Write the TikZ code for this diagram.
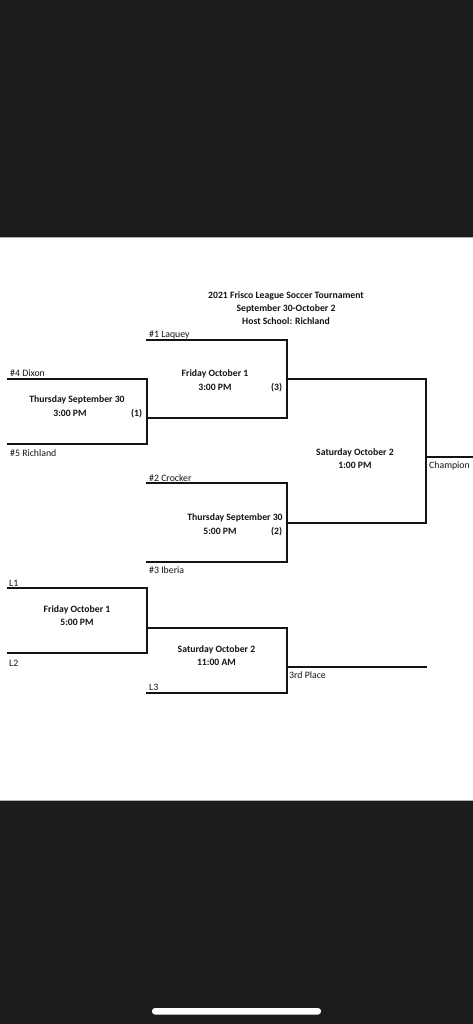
\documentclass[tikz,border=0pt]{standalone}
\usepackage{fontspec}
\setmainfont{Carlito}
\definecolor{band}{HTML}{1C1C1E}
\definecolor{ink}{HTML}{141414}
\begin{document}
\begin{tikzpicture}[x=1pt,y=-1pt,
  lbl/.style={font=\fontsize{9.8}{11}\selectfont, text=ink, inner sep=0pt, anchor=base west},
  game/.style={font=\fontsize{9.7}{11}\selectfont\bfseries, text=ink, inner sep=0pt, anchor=base},
  seed/.style={font=\fontsize{9.7}{11}\selectfont\bfseries, text=ink, inner sep=0pt, anchor=base west},
  br/.style={line width=2.2pt, draw=ink, line cap=rect, line join=miter}]
\useasboundingbox (0,0) rectangle (473,1024);
\fill[white] (0,0) rectangle (473,1024);
\fill[band] (0,0) rectangle (473,237);
\fill[band] (0,800) rectangle (473,1024);
\draw[gray!60, line width=0.8pt] (0,237) -- (473,237);
\draw[gray!60, line width=0.8pt] (0,800.5) -- (473,800.5);
\fill[white, rounded corners=3pt] (152,1008) rectangle (321,1014.5);

% title
\node[game] (t1) at (286,298.5) {2021 Frisco League Soccer Tournament};
\node[game] (t2) at (286,311.5) {September 30-October 2};
\node[game] (t3) at (286,324.5) {Host School: Richland};

% coordinates
\coordinate (a1) at (8,378.7);
\coordinate (a2) at (8,444);
\coordinate (a3) at (147,378.7);
\coordinate (a4) at (147,444);
\coordinate (a5) at (147,417.7);
\coordinate (b1) at (147,340);
\coordinate (b2) at (287,340);
\coordinate (b3) at (287,417.7);
\coordinate (b4) at (287,379);
\coordinate (c1) at (147,483);
\coordinate (c2) at (287,483);
\coordinate (c3) at (147,562);
\coordinate (c4) at (287,562);
\coordinate (c5) at (287,523);
\coordinate (d1) at (426,379);
\coordinate (d2) at (426,523);
\coordinate (d3) at (426,457);
\coordinate (d4) at (474,457);
\coordinate (e1) at (8,588.3);
\coordinate (e2) at (147,588.3);
\coordinate (e3) at (8,653.3);
\coordinate (e4) at (147,653.3);
\coordinate (e5) at (147,627.7);
\coordinate (f1) at (287,627.7);
\coordinate (f2) at (147,693.3);
\coordinate (f3) at (287,693.3);
\coordinate (f4) at (287,667);
\coordinate (f5) at (426,667);

% brackets
\draw[br] (a1) -- (a3) -- (a4) -- (a2);
\draw[br] (a5) -- (b3);
\draw[br] (b1) -- (b2) -- (b3);
\draw[br] (c1) -- (c2) -- (c4) -- (c3);
\draw[br] (b4) -- (d1) -- (d2) -- (c5);
\draw[br] (d3) -- (d4);
\draw[br] (e1) -- (e2) -- (e4) -- (e3);
\draw[br] (e5) -- (f1) -- (f3) -- (f2);
\draw[br] (f4) -- (f5);

% team labels
\node[lbl] (dixon) at (10,376) {\#4 Dixon};
\node[lbl] (rich) at (10,456) {\#5 Richland};
\node[lbl] (laq) at (149,337) {\#1 Laquey};
\node[lbl] (croc) at (149,481) {\#2 Crocker};
\node[lbl] (iber) at (149,573) {\#3 Iberia};
\node[lbl] (l1) at (9,586) {L1};
\node[lbl] (l2) at (9,666) {L2};
\node[lbl] (l3) at (149,690.5) {L3};
\node[lbl] (champ) at (429,468) {Champion};
\node[lbl] (third) at (289,678) {3rd Place};

% games
\node[game] (g1a) at (77,402.5) {Thursday September 30};
\node[game] (g1b) at (70,416) {3:00 PM};
\node[seed] (g1n) at (131,416) {(1)};
\node[game] (g3a) at (215,376.5) {Friday October 1};
\node[game] (g3b) at (215,390) {3:00 PM};
\node[seed] (g3n) at (271,390) {(3)};
\node[game] (g2a) at (235,520.5) {Thursday September 30};
\node[game] (g2b) at (220,534.5) {5:00 PM};
\node[seed] (g2n) at (271,534.5) {(2)};
\node[game] (g4a) at (355,455.5) {Saturday October 2};
\node[game] (g4b) at (355,468.5) {1:00 PM};
\node[game] (g5a) at (77,612.5) {Friday October 1};
\node[game] (g5b) at (77,625.5) {5:00 PM};
\node[game] (g6a) at (216.5,652.5) {Saturday October 2};
\node[game] (g6b) at (216.5,665.5) {11:00 AM};
\end{tikzpicture}
\end{document}
